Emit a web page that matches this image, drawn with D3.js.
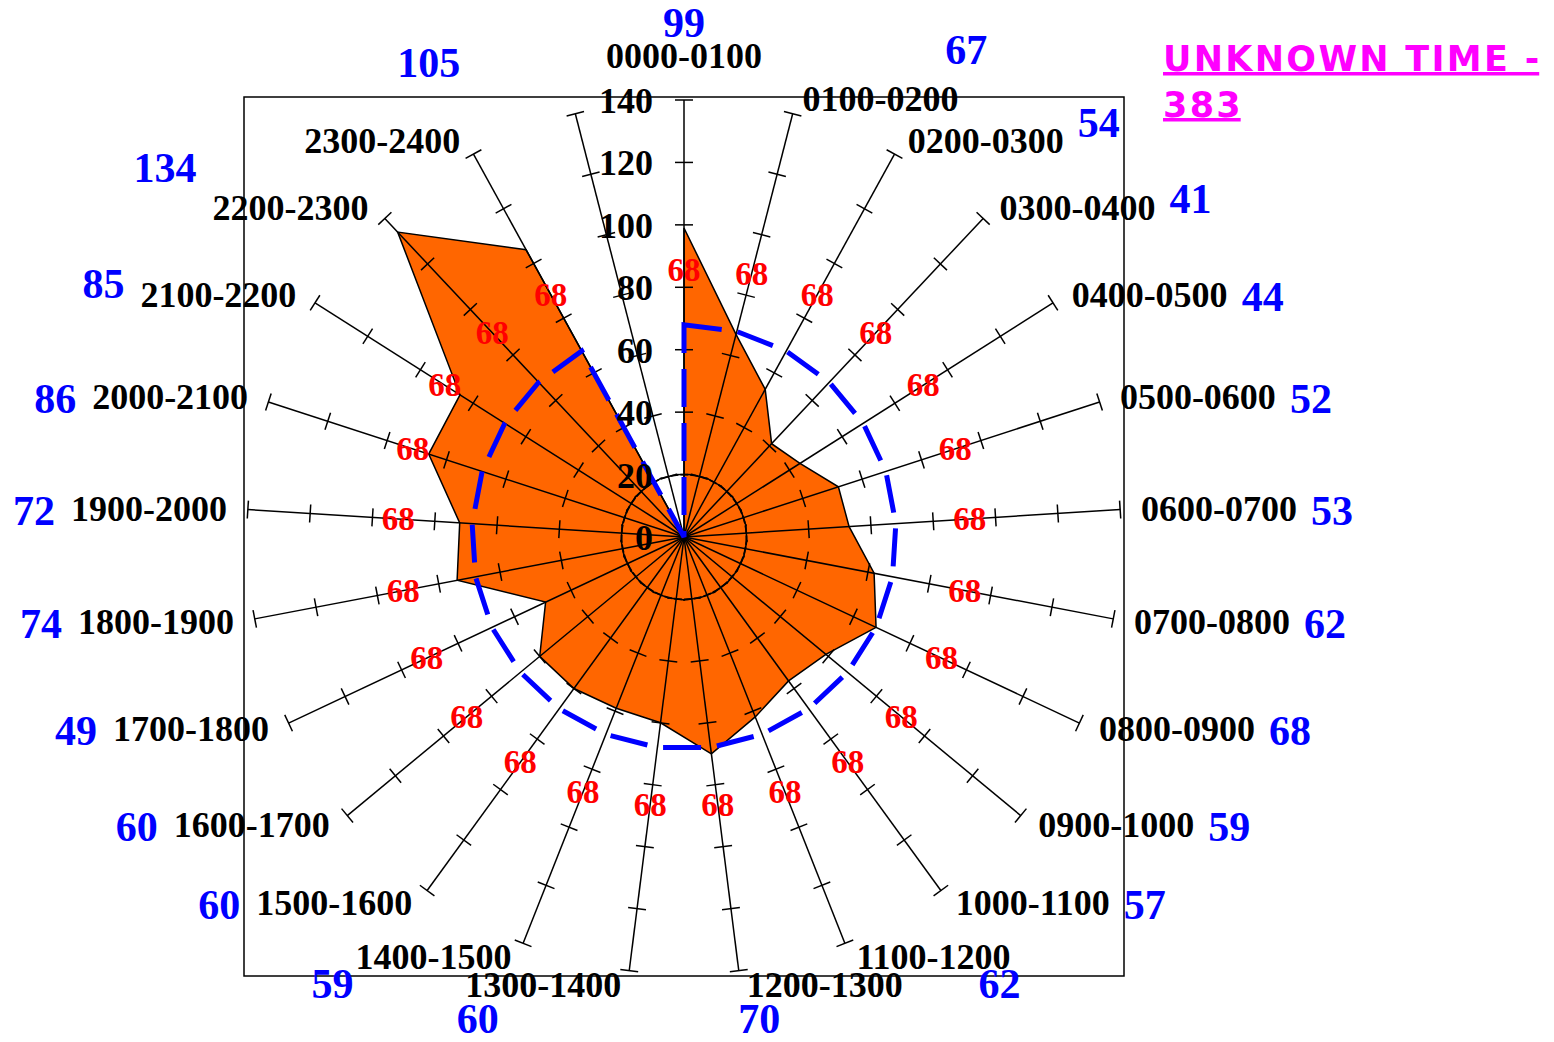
<!DOCTYPE html>
<html>
<head>
<meta charset="utf-8">
<script src="https://cdn.jsdelivr.net/npm/d3@7"></script>
<style>
  html, body { margin: 0; padding: 0; background: #ffffff; }
  svg { display: block; }
</style>
</head>
<body>
<svg id="chart" width="1554" height="1042"></svg>
<script>
// ---------------- data ----------------
const hourLabels = [
  "0000-0100","0100-0200","0200-0300","0300-0400","0400-0500","0500-0600",
  "0600-0700","0700-0800","0800-0900","0900-1000","1000-1100","1100-1200",
  "1200-1300","1300-1400","1400-1500","1500-1600","1600-1700","1700-1800",
  "1800-1900","1900-2000","2000-2100","2100-2200","2200-2300","2300-2400"
];
const hourCounts = [99, 67, 54, 41, 44, 52, 53, 62, 68, 59, 57, 62,
                    70, 60, 59, 60, 60, 49, 74, 72, 86, 85, 134, 105];
const averageValues = [68, 68, 68, 68, 68, 68, 68, 68, 68, 68, 68, 68,
                       68, 68, 68, 68, 68, 68, 68, 68, 68, 68, 68, 68];
const radialTicks = [0, 20, 40, 60, 80, 100, 120, 140];
const unknownText = "UNKNOWN TIME -";
const unknownCount = 383;

// ---------------- layout ----------------
const cx = 684, cy = 537, R = 437;
const slots = hourLabels.length + 1;           // extra empty slot for unknown time
const serif = "'Liberation Serif','Times New Roman',Times,serif";

const svg = d3.select("#chart");
const rMax = d3.max(radialTicks);
const r = d3.scaleLinear().domain([0, rMax]).range([0, R]);
const angle = d3.scaleLinear().domain([0, slots]).range([0, 2 * Math.PI]);
const px = (i, v) => r(v) * Math.sin(angle(i));
const py = (i, v) => -r(v) * Math.cos(angle(i));

const g = svg.append("g").attr("transform", `translate(${cx},${cy})`);

// frame
g.append("rect")
  .attr("x", -R - 3).attr("y", -R - 3)
  .attr("width", 2 * R + 6).attr("height", 2 * R + 5)
  .attr("fill", "none").attr("stroke", "#000").attr("stroke-width", 1.5);

const radial = d3.lineRadial()
  .angle(d => angle(d.i))
  .radius(d => r(d.v))
  .curve(d3.curveLinearClosed);

// orange series
const countPts = hourCounts.map((v, i) => ({ i, v })).concat([{ i: slots - 1, v: 0 }]);
g.append("path")
  .attr("d", radial(countPts))
  .attr("fill", "#ff6600")
  .attr("stroke", "#000")
  .attr("stroke-width", 1.5)
  .attr("stroke-linejoin", "miter");

// inner dashed circle
g.append("circle")
  .attr("r", r(radialTicks[1]))
  .attr("fill", "none").attr("stroke", "#000")
  .attr("stroke-width", 1.8).attr("stroke-dasharray", "8,2");

// spokes
const spokeIdx = d3.range(slots);
g.selectAll("line.spoke").data(spokeIdx).enter().append("line")
  .attr("class", "spoke")
  .attr("x1", 0).attr("y1", 0)
  .attr("x2", i => px(i, rMax))
  .attr("y2", i => py(i, rMax))
  .attr("stroke", "#000").attr("stroke-width", 1.5);

// ticks on spokes
const tickData = [];
spokeIdx.forEach(i => radialTicks.slice(1).forEach(t => tickData.push({ i, t })));
const th = 9;
g.selectAll("line.tick").data(tickData).enter().append("line")
  .attr("class", "tick")
  .attr("x1", d => px(d.i, d.t) - th * Math.cos(angle(d.i)))
  .attr("y1", d => py(d.i, d.t) - th * Math.sin(angle(d.i)))
  .attr("x2", d => px(d.i, d.t) + th * Math.cos(angle(d.i)))
  .attr("y2", d => py(d.i, d.t) + th * Math.sin(angle(d.i)))
  .attr("stroke", "#000").attr("stroke-width", 1.5);

// blue dashed average
const avgPts = averageValues.map((v, i) => ({ i, v })).concat([{ i: slots - 1, v: 0 }]);
g.append("path")
  .attr("d", radial(avgPts))
  .attr("fill", "none")
  .attr("stroke", "#0000ff")
  .attr("stroke-width", 5)
  .attr("stroke-dasharray", "38,16");

// radial tick labels on the vertical spoke
g.selectAll("text.rt").data(radialTicks).enter().append("text")
  .attr("class", "rt")
  .attr("x", -31)
  .attr("y", t => -r(t) + 13)
  .attr("text-anchor", "end")
  .attr("font-family", serif).attr("font-weight", "bold")
  .attr("font-size", 36).attr("fill", "#000")
  .text(t => t);

// red average labels
const avgLabelR = (v, i) => r(v) + 55 + 19 * Math.abs(Math.sin(angle(i)));
g.selectAll("text.avg").data(averageValues).enter().append("text")
  .attr("class", "avg")
  .attr("x", (v, i) => avgLabelR(v, i) * Math.sin(angle(i)))
  .attr("y", (v, i) => -avgLabelR(v, i) * Math.cos(angle(i)))
  .attr("dy", "0.34em")
  .attr("text-anchor", "middle")
  .attr("font-family", serif).attr("font-weight", "bold")
  .attr("font-size", 33).attr("fill", "#ff0000")
  .text(v => v);

// hour labels
const baselines = [];
const hourSel = g.selectAll("text.hour").data(hourLabels).enter().append("text")
  .attr("class", "hour")
  .attr("font-family", serif).attr("font-weight", "bold")
  .attr("font-size", 36).attr("fill", "#000")
  .each(function (lab, i) {
    const a = angle(i), s = Math.sin(a), c = Math.cos(a);
    const ex = px(i, rMax), ey = py(i, rMax);
    const el = d3.select(this);
    let by;
    if (Math.abs(s) < 0.05) {
      by = ey - 32;
      el.attr("x", ex).attr("y", by).attr("text-anchor", "middle");
    } else {
      const off = 6 + 15 * Math.abs(s);
      by = ey + 12 - 15 * c;
      el.attr("x", ex + (s > 0 ? off : -off))
        .attr("y", by)
        .attr("text-anchor", s > 0 ? "start" : "end");
    }
    baselines.push(by);
  })
  .text(d => d);

// blue count labels, placed beside their hour label
const boxes = [];
hourSel.each(function () { boxes.push(this.getBBox()); });
g.selectAll("text.cnt").data(hourCounts).enter().append("text")
  .attr("class", "cnt")
  .attr("font-family", serif).attr("font-weight", "bold")
  .attr("font-size", 42).attr("fill", "#0000ff")
  .text(d => d)
  .each(function (v, i) {
    const a = angle(i), s = Math.sin(a), c = Math.cos(a);
    const b = boxes[i];
    const lb = baselines[i];
    const el = d3.select(this);
    if (c > 0.85 && s < 0.4 && s > -0.4) {
      // above the label
      const shift = Math.abs(s) < 0.05 ? 0 : 0.55 * b.width;
      el.attr("x", b.x + b.width / 2 + shift)
        .attr("y", lb - 31 - 64 * Math.abs(s))
        .attr("text-anchor", "middle");
    } else if (c > 0.85 && s < 0) {
      // above, aligned to the label's inner edge
      el.attr("x", b.x + b.width).attr("y", lb - 76).attr("text-anchor", "end");
    } else if (c < -0.95) {
      // below the label
      el.attr("x", b.x + b.width / 2 - 0.42 * b.width).attr("y", lb + 36).attr("text-anchor", "middle");
    } else if (c < -0.9) {
      // below and outside the label
      if (s > 0) el.attr("x", b.x + b.width - 32).attr("y", lb + 29).attr("text-anchor", "start");
      else el.attr("x", b.x - 2).attr("y", lb + 29).attr("text-anchor", "end");
    } else if (s > 0) {
      el.attr("x", b.x + b.width + 14).attr("y", lb + 4 - 60 * Math.max(0, c - 0.55)).attr("text-anchor", "start");
    } else {
      el.attr("x", b.x - 16).attr("y", lb + 4 - 150 * Math.max(0, c - 0.45)).attr("text-anchor", "end");
    }
  });

// unknown time note (magenta, underlined)
const note = svg.append("g");
const noteLines = [unknownText, String(unknownCount)];
note.selectAll("text").data(noteLines).enter().append("text")
  .attr("x", 1163)
  .attr("y", (d, k) => 71 + k * 46)
  .attr("font-family", "'DejaVu Sans',Verdana,sans-serif")
  .attr("font-weight", "bold")
  .attr("font-size", 35)
  .attr("letter-spacing", 2.3)
  .attr("fill", "#ff00ff")
  .text(d => d)
  .each(function (d, k) {
    const w = this.getComputedTextLength() - 2.3;
    note.append("rect")
      .attr("x", 1163).attr("y", 71 + k * 46 + 1)
      .attr("width", w).attr("height", 3.5)
      .attr("fill", "#ff00ff");
  });
</script>
</body>
</html>
